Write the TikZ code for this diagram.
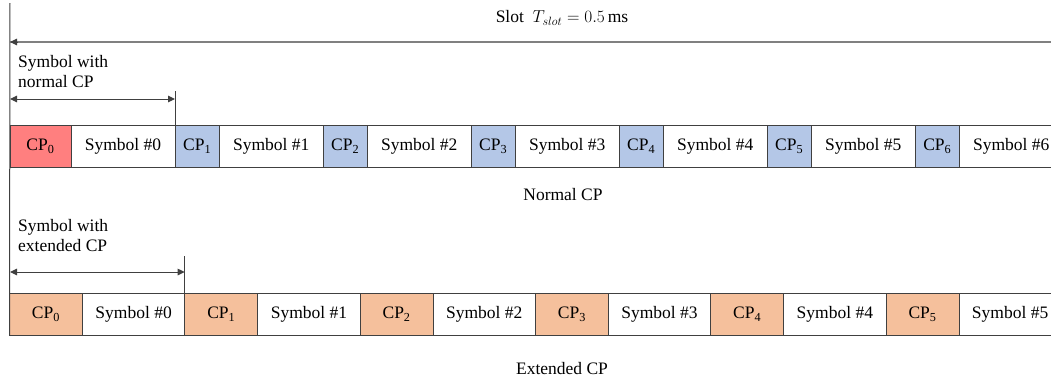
\documentclass[tikz,border=0pt]{standalone}
\usepackage{fontspec}
\setmainfont{Liberation Serif}
\usetikzlibrary{arrows.meta,calc}
\definecolor{cpred}{HTML}{FF7F7F}
\definecolor{cpblue}{HTML}{B4C7E7}
\definecolor{cporange}{HTML}{F5C09C}
\definecolor{edge}{HTML}{404040}
\tikzset{
  cell/.style={draw=edge, line width=1pt, anchor=north west, minimum height=42pt,
    inner sep=0pt, outer sep=0pt, font=\fontsize{17.5pt}{20pt}\selectfont},
  lbl/.style={font=\fontsize{17.5pt}{20pt}\selectfont, inner sep=0pt, align=left},
  dimline/.style={draw=edge, line width=1pt,
    {Triangle[length=7pt,width=6.5pt]}-{Triangle[length=7pt,width=6.5pt]}},
  slotline/.style={draw=gray, line width=1.4pt, -},
}
\begin{document}
\begin{tikzpicture}[x=1pt,y=-1pt]
\useasboundingbox (0,0) rectangle (1051,381);

% ---- normal cyclic prefix row ----
\node[cell, fill=cpred, minimum width=61pt] (nc0) at (10,125) {CP\textsubscript{0}};
\node[cell, fill=white, minimum width=104pt] (ns0) at (71,125) {Symbol \#0};
\foreach \k in {1,...,6}{
  \pgfmathsetmacro{\xc}{175+148*(\k-1)}
  \pgfmathsetmacro{\xs}{\xc+44.5}
  \node[cell, fill=cpblue, minimum width=44.5pt] (nc\k) at (\xc,125) {CP\textsubscript{\k}};
  \node[cell, fill=white, minimum width=103.5pt] (ns\k) at (\xs,125) {Symbol \#\k};
}

% ---- extended cyclic prefix row ----
\foreach \k in {0,...,5}{
  \pgfmathsetmacro{\xc}{9.5+175.3*\k}
  \pgfmathsetmacro{\xs}{\xc+73}
  \node[cell, fill=cporange, minimum width=73pt] (ec\k) at (\xc,293) {CP\textsubscript{\k}};
  \node[cell, fill=white, minimum width=102.3pt] (es\k) at (\xs,293) {Symbol \#\k};
}

% ---- reference line on the left ----
\coordinate (top) at (10,3);
\draw[draw=edge, line width=1pt] (top) -- (ec0.south west);

% ---- slot duration ----
\node[lbl] (slot) at (562,18) {Slot\ \ $T_{slot}=0.5$\,ms};
\coordinate (slotR) at (1051,42);
\coordinate (slotL) at (10,42);
\draw[slotline] (slotR) -- (slotL);
\draw[draw=edge, line width=1pt, -{Triangle[length=7pt,width=6.5pt]}] ($(slotL)+(8,0)$) -- (slotL);

% ---- symbol with normal CP ----
\node[lbl, anchor=west] (labN) at (18,72) {Symbol with\\normal CP};
\coordinate (nL) at (10,99);
\coordinate (nR) at (175,99);
\draw[draw=edge, line width=1pt] (ns0.north east) -- ++(0,-34);
\draw[dimline] (nL) -- (nR);
\node[lbl] (capN) at (563,195) {Normal CP};

% ---- symbol with extended CP ----
\node[lbl, anchor=west] (labE) at (18,236) {Symbol with\\extended CP};
\coordinate (eL) at (10,272);
\coordinate (eR) at (184.7,272);
\draw[draw=edge, line width=1pt] (es0.north east) -- ++(0,-37);
\draw[dimline] (eL) -- (eR);
\node[lbl] (capE) at (562,369) {Extended CP};
\end{tikzpicture}
\end{document}
